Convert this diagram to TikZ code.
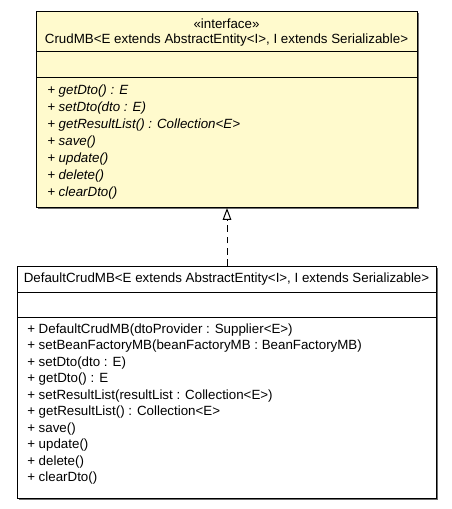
\documentclass[tikz,border=0pt]{standalone}
\usepackage{fontspec}
\setmainfont{Liberation Sans}
\usetikzlibrary{positioning, arrows.meta}
\definecolor{ifacefill}{RGB}{255,250,205}
\definecolor{shadowgray}{RGB}{110,110,110}
\tikzset{
	x=0.75pt, y=-0.75pt, % one unit is one pixel of the reference
	classbox/.style={draw, line width=0.75pt, inner sep=0pt, anchor=north west}, % the frame of a class
	op/.style={anchor=west, inner sep=0pt, font=\fontsize{10pt}{12pt}\selectfont}, % one line of a compartment
	title/.style={inner sep=0pt, font=\fontsize{10pt}{12pt}\selectfont},
	realize/.style={-{Triangle[open, length=9pt, width=6.5pt]}, line width=0.75pt, dash pattern=on 5pt off 3.5pt}, % dashed realization
}
\begin{document}
\begin{tikzpicture}
	\useasboundingbox (0,0) rectangle (452,509);
	% shadows
	\fill[shadowgray] (38,13) rectangle (419,209);
	\fill[shadowgray] (19,268) rectangle (438,500);
	% the interface
	\node[classbox, fill=ifacefill, minimum width=381*0.75pt, minimum height=196*0.75pt] (crud) at (36,11) {};
	\draw[line width=0.75pt] (36,52) -- (417,52);
	\draw[line width=0.75pt] (36,78) -- (417,78);
	\node[title] (crudst) at (226.5,24) {«interface»};
	\node[title] (crudname) at (226.5,40) {CrudMB<E extends AbstractEntity<I>, I extends Serializable>};
	\foreach \t [count=\i] in {getDto() : E, setDto(dto : E), getResultList() : Collection<E>, save(), update(), delete(), clearDto()}
		\node[op, font=\fontsize{10pt}{12pt}\selectfont\itshape] (crudop\i) at (47,74+17*\i) {+ \t};
	% the class
	\node[classbox, fill=white, minimum width=419*0.75pt, minimum height=232*0.75pt] (impl) at (17,266) {};
	\draw[line width=0.75pt] (17,292) -- (436,292);
	\draw[line width=0.75pt] (17,317) -- (436,317);
	\node[title] (implname) at (226.5,279) {DefaultCrudMB<E extends AbstractEntity<I>, I extends Serializable>};
	\foreach \t [count=\i] in {DefaultCrudMB(dtoProvider : Supplier<E>), setBeanFactoryMB(beanFactoryMB : BeanFactoryMB), setDto(dto : E), getDto() : E, setResultList(resultList : Collection<E>), getResultList() : Collection<E>, save(), update(), delete(), clearDto()}
		\node[op] (implop\i) at (27,313.5+16.5*\i) {+ \t};
	% realization
	\draw[realize] (impl.north) -- (crud.south);
\end{tikzpicture}
\end{document}
